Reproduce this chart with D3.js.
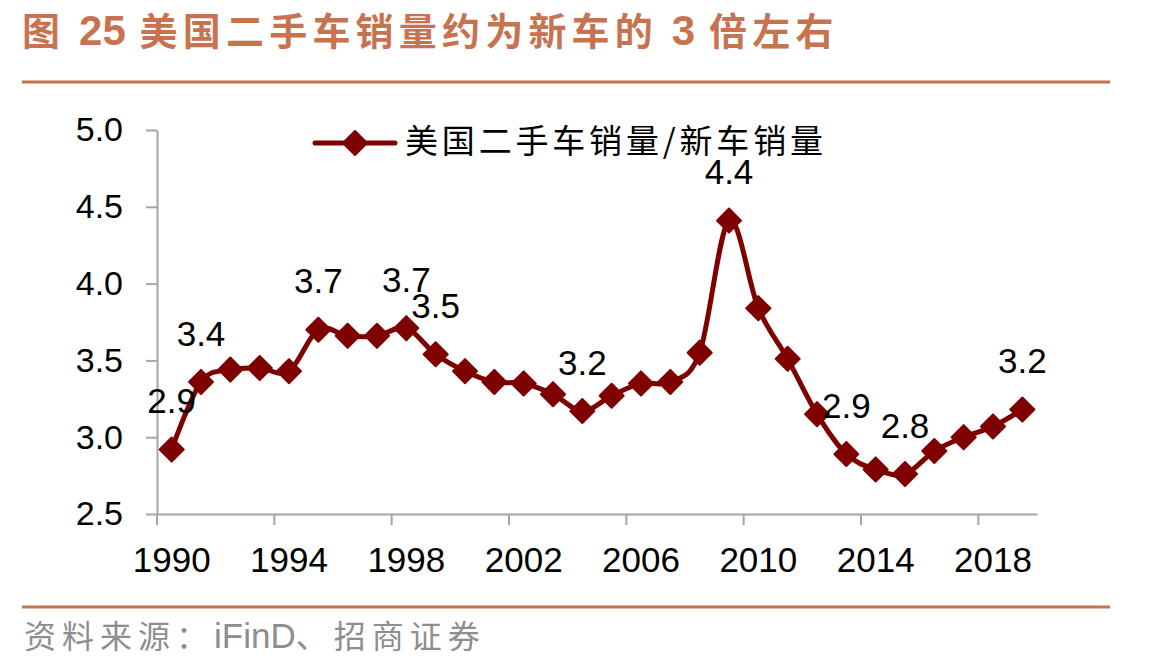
<!DOCTYPE html>
<html>
<head>
<meta charset="utf-8">
<script src="https://cdn.jsdelivr.net/npm/d3@7"></script>
<style>
  html, body { margin: 0; padding: 0; background: #fff; }
  svg { display: block; }
  .cjk { font-family: "Noto Sans CJK SC", sans-serif; }
  .num { font-family: "Liberation Sans", Arial, sans-serif; }
</style>
</head>
<body>
<div id="chart"></div>
<script>
// data
const years = d3.range(1990, 2020);
const ratios = [2.92, 3.36, 3.44, 3.45, 3.43, 3.70, 3.66, 3.66, 3.71, 3.54,
                3.43, 3.36, 3.35, 3.28, 3.17, 3.27, 3.35, 3.36, 3.55, 4.41,
                3.84, 3.51, 3.15, 2.89, 2.79, 2.76, 2.91, 3.00, 3.07, 3.18];
const labelYears = [1990, 1991, 1995, 1998, 1999, 2004, 2009, 2013, 2015, 2019];
const xTickYears = [1990, 1994, 1998, 2002, 2006, 2010, 2014, 2018];
const yTicks = [2.5, 3.0, 3.5, 4.0, 4.5, 5.0];
// title / source split into CJK and latin runs (latin runs set tight)
const titleParts = [['图 ', true], ['25', false], [' 美国二手车销量约为新车的 ', true], ['3', false], [' 倍左右', true]];
const legendText = '美国二手车销量/新车销量';
const sourceParts = [['资料来源：', true], ['iFinD', false], ['、招商证券', true]];

const width = 1154, height = 668;
const accent = '#c8734f';
const lineColor = '#7f0000';
const axisColor = '#a6a6a6';

const data = years.map((y, i) => ({ year: y, value: ratios[i] }));

const svg = d3.select('#chart').append('svg')
	.attr('width', width)
	.attr('height', height);

// title + rules
const title = svg.append('text')
	.attr('class', 'cjk')
	.attr('x', 22)
	.attr('y', 45)
	.attr('font-size', 38)
	.attr('font-weight', 'bold')
	.attr('fill', accent);

title.selectAll('tspan')
	.data(titleParts).enter()
	.append('tspan')
		.attr('class', d => d[1] ? 'cjk' : 'num')
		.attr('font-size', d => d[1] ? 38 : 42)
		.attr('letter-spacing', d => d[1] ? 5.2 : 0)
		.text(d => d[0]);

svg.append('line')
	.attr('x1', 22).attr('x2', 1110)
	.attr('y1', 82).attr('y2', 82)
	.attr('stroke', accent)
	.attr('stroke-width', 3);

svg.append('line')
	.attr('x1', 22).attr('x2', 1110)
	.attr('y1', 607).attr('y2', 607)
	.attr('stroke', accent)
	.attr('stroke-width', 3);

const source = svg.append('text')
	.attr('x', 24)
	.attr('y', 648)
	.attr('fill', '#8e8e8e');

source.selectAll('tspan')
	.data(sourceParts).enter()
	.append('tspan')
		.attr('class', d => d[1] ? 'cjk' : 'num')
		.attr('font-size', d => d[1] ? 32 : 35)
		.attr('letter-spacing', d => d[1] ? 6 : 0)
		.text(d => d[0]);

// scales
const x = d3.scaleBand()
	.domain(years)
	.range([157, 1037])
	.padding(0);

const y = d3.scaleLinear()
	.domain([2.5, 5])
	.range([514, 130]);

const cx = d => x(d.year) + x.bandwidth() / 2;
const cy = d => y(d.value);

// y axis
const yAxis = svg.append('g')
	.attr('transform', 'translate(157,0)')
	.call(d3.axisLeft(y)
		.tickValues(yTicks)
		.tickFormat(d3.format('.1f'))
		.tickSize(11)
		.tickSizeOuter(0)
		.tickPadding(23));

// x axis: labels at category centres, ticks on category edges every 4 years
const xAxis = svg.append('g')
	.attr('transform', 'translate(0,514)')
	.call(d3.axisBottom(x)
		.tickValues(xTickYears)
		.tickSize(0)
		.tickSizeOuter(0)
		.tickPadding(33));

xAxis.selectAll('.edgeTick')
	.data(xTickYears).enter()
	.append('line')
		.attr('class', 'edgeTick')
		.attr('x1', d => x(d)).attr('x2', d => x(d))
		.attr('y1', 0).attr('y2', 11);

[yAxis, xAxis].forEach(g => {
	g.selectAll('path.domain, line')
		.attr('stroke', axisColor)
		.attr('stroke-width', 2);
	g.selectAll('text')
		.attr('class', 'num')
		.attr('fill', '#000')
		.attr('font-size', 34);
});
xAxis.selectAll('text').attr('font-size', 35);

// series
svg.append('path')
	.datum(data)
	.attr('fill', 'none')
	.attr('stroke', lineColor)
	.attr('stroke-width', 5)
	.attr('stroke-linejoin', 'round')
	.attr('d', d3.line()
		.x(cx)
		.y(cy)
		.curve(d3.curveCardinal.tension(0)));

const diamond = d3.symbol().type(d3.symbolSquare).size(290);

svg.append('g')
	.selectAll('path')
	.data(data).enter()
	.append('path')
		.attr('d', diamond)
		.attr('transform', d => `translate(${cx(d)},${cy(d)}) rotate(45)`)
		.attr('fill', lineColor)
		.attr('stroke', lineColor)
		.attr('stroke-width', 2)
		.attr('stroke-linejoin', 'round');

// data labels
svg.append('g')
	.selectAll('text')
	.data(data.filter(d => labelYears.includes(d.year))).enter()
	.append('text')
		.attr('class', 'num')
		.attr('x', cx)
		.attr('y', d => cy(d) - 49)
		.attr('dy', '0.36em')
		.attr('text-anchor', 'middle')
		.attr('font-size', 35)
		.attr('fill', '#000')
		.text(d => d3.format('.1f')(d.value));

// legend
const legend = svg.append('g')
	.attr('transform', 'translate(0,143)');

legend.append('line')
	.attr('x1', 315).attr('x2', 395)
	.attr('stroke', lineColor)
	.attr('stroke-width', 5)
	.attr('stroke-linecap', 'round');

legend.append('path')
	.attr('d', diamond)
	.attr('transform', 'translate(355,0) rotate(45)')
	.attr('fill', lineColor)
	.attr('stroke', lineColor)
	.attr('stroke-width', 2)
	.attr('stroke-linejoin', 'round');

legend.append('text')
	.attr('class', 'cjk')
	.attr('x', 405)
	.attr('y', -2)
	.attr('dy', '0.36em')
	.attr('textLength', 418)
	.attr('lengthAdjust', 'spacing')
	.attr('font-size', 33)
	.attr('fill', '#000')
	.text(legendText);
</script>
</body>
</html>
